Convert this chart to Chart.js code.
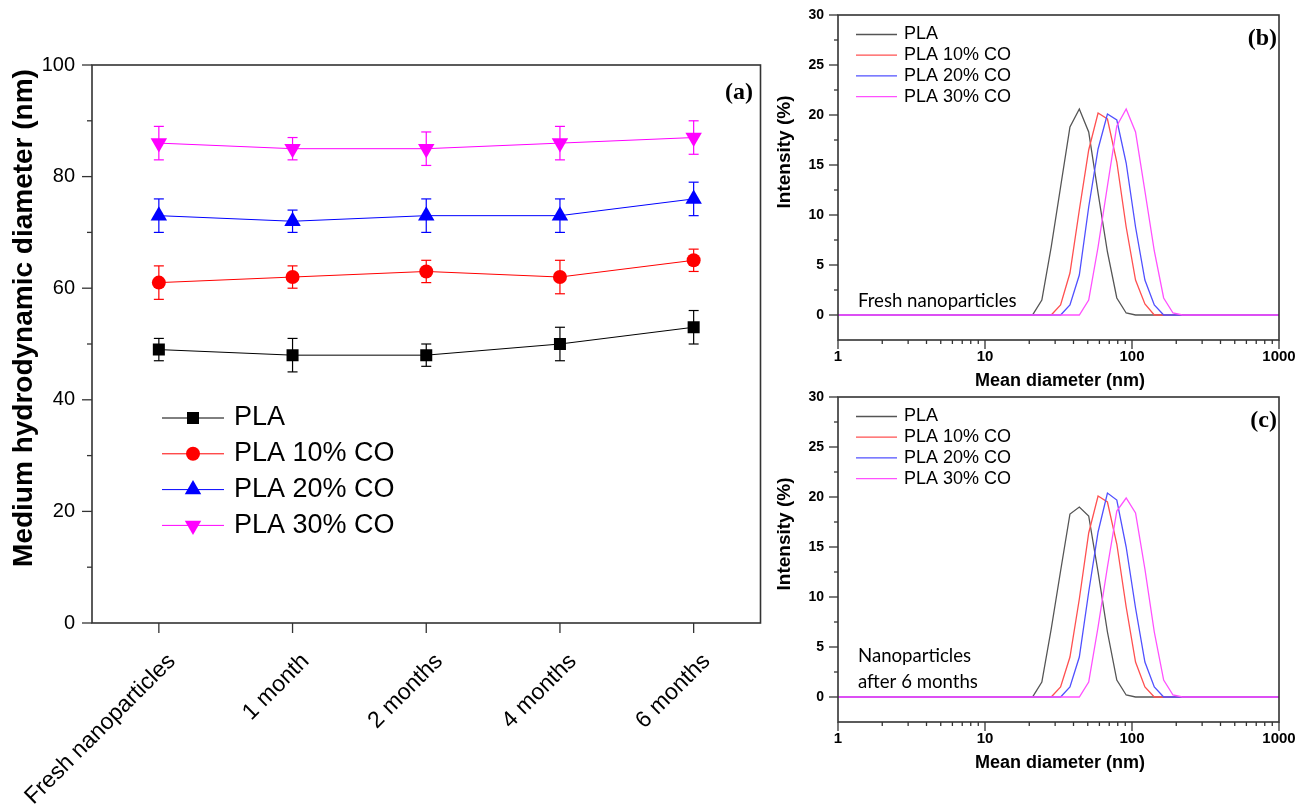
<!DOCTYPE html>
<html>
<head>
<meta charset="utf-8">
<script src="https://cdn.jsdelivr.net/npm/chart.js@4.4.1/dist/chart.umd.min.js"></script>
<style>
  html, body { margin: 0; padding: 0; background: #fff; }
  #wrap { position: relative; width: 1310px; height: 809px; overflow: hidden; }
  canvas { position: absolute; }
  #chartA { left: 0; top: 0; }
  #chartB { left: 770px; top: 0; }
  #chartC { left: 770px; top: 382px; }
</style>
</head>
<body>
<div id="wrap">
  <canvas id="chartA" width="770" height="809"></canvas>
  <canvas id="chartB" width="540" height="400"></canvas>
  <canvas id="chartC" width="540" height="400"></canvas>
</div>
<script>
// ── Datos ────────────────────────────────────────────────────────────────
const periods = ["Fresh nanoparticles", "1 month", "2 months", "4 months", "6 months"]
const seriesNames = ["PLA", "PLA 10% CO", "PLA 20% CO", "PLA 30% CO"]

// (a) diámetro hidrodinámico medio (nm) y barras de error
const diamPLA  = [49, 48, 48, 50, 53]
const errPLA   = [2, 3, 2, 3, 3]
const diamCO10 = [61, 62, 63, 62, 65]
const errCO10  = [3, 2, 2, 3, 2]
const diamCO20 = [73, 72, 73, 73, 76]
const errCO20  = [3, 2, 3, 3, 3]
const diamCO30 = [86, 85, 85, 86, 87]
const errCO30  = [3, 2, 3, 3, 3]
const diamTicks = [0, 20, 40, 60, 80, 100]

// (b, c) distribución de tamaños (intensidad %) por bin de diámetro (nm)
const binsNm = [1, 18.17, 21.04, 24.36, 28.21, 32.67, 37.84, 43.82, 50.75, 58.77, 68.06,
                78.82, 91.28, 105.7, 122.4, 141.8, 164.2, 190.1, 220.2, 255.0, 1000]
const freshPLA  = [0, 0, 0, 1.5, 6.8, 12.8, 18.8, 20.6, 18.3, 12.2, 6.3, 1.7, 0.2, 0, 0, 0, 0, 0, 0, 0, 0]
const freshCO10 = [0, 0, 0, 0, 0, 1.0, 4.2, 10.5, 16.5, 20.2, 19.6, 15.3, 8.8, 3.5, 1.1, 0, 0, 0, 0, 0, 0]
const freshCO20 = [0, 0, 0, 0, 0, 0, 1.0, 4.0, 10.8, 16.6, 20.1, 19.5, 15.2, 8.8, 3.5, 1.0, 0, 0, 0, 0, 0]
const freshCO30 = [0, 0, 0, 0, 0, 0, 0, 0, 1.5, 6.8, 12.9, 18.9, 20.6, 18.3, 12.4, 6.4, 1.7, 0.2, 0, 0, 0]
const sixPLA    = [0, 0, 0, 1.5, 6.8, 12.6, 18.3, 19.0, 18.1, 12.5, 6.5, 1.7, 0.2, 0, 0, 0, 0, 0, 0, 0, 0]
const sixCO10   = [0, 0, 0, 0, 0, 1.0, 4.0, 9.8, 16.4, 20.1, 19.5, 15.3, 9.0, 3.5, 1.0, 0, 0, 0, 0, 0, 0]
const sixCO20   = [0, 0, 0, 0, 0, 0, 1.0, 4.0, 10.5, 16.5, 20.4, 19.7, 15.0, 8.9, 3.5, 1.0, 0, 0, 0, 0, 0]
const sixCO30   = [0, 0, 0, 0, 0, 0, 0, 0, 1.5, 7.0, 13.0, 18.6, 19.9, 18.4, 12.8, 6.5, 1.7, 0.2, 0, 0, 0]
const intensityTicks = [0, 5, 10, 15, 20, 25, 30]
const sizeTicks = [1, 10, 100, 1000]

// ── Estilos ──────────────────────────────────────────────────────────────
const SANS  = "'Liberation Sans', Arial, sans-serif"
const SERIF = "'Liberation Serif', 'Times New Roman', serif"
const axisColor = "#333"

const markColors = ["#000000", "#ff0000", "#0000ff", "#ff00ff"]
const markStyles = ["rect", "circle", "triangle", "triangle"]
const markRot    = [0, 0, 0, 180]
const markRadius = [8.5, 7, 9.5, 9.5]
const distColors = ["#555555", "#ff5050", "#5050ff", "#ff50ff"]

function line(ctx, x1, y1, x2, y2) {
  ctx.beginPath(); ctx.moveTo(x1, y1); ctx.lineTo(x2, y2); ctx.stroke()
}

function text(ctx, str, x, y, font, align, rot) {
  ctx.save()
  ctx.translate(x, y)
  if (rot) ctx.rotate(rot)
  ctx.font = font
  ctx.fillStyle = "#000"
  ctx.textAlign = align || "left"
  ctx.textBaseline = "middle"
  ctx.fillText(str, 0, 0)
  ctx.restore()
}

// marco, marcas de eje, textos y leyenda
function framePlugin(cfg) {
  return {
    id: "frame",
    beforeDatasetsDraw(chart) {
      if (!cfg.errors) return
      const ctx = chart.ctx, ys = chart.scales.y
      ctx.save()
      ctx.lineWidth = 1.2
      chart.data.datasets.forEach((ds, i) => {
        const meta = chart.getDatasetMeta(i)
        ctx.strokeStyle = ds.borderColor
        meta.data.forEach((pt, j) => {
          const top = ys.getPixelForValue(ds.data[j] + cfg.errors[i][j])
          const bot = ys.getPixelForValue(ds.data[j] - cfg.errors[i][j])
          line(ctx, pt.x, top, pt.x, bot)
          line(ctx, pt.x - 5, top, pt.x + 5, top)
          line(ctx, pt.x - 5, bot, pt.x + 5, bot)
        })
      })
      ctx.restore()
    },
    afterDraw(chart) {
      const ctx = chart.ctx, a = chart.chartArea
      ctx.save()
      ctx.strokeStyle = axisColor
      ctx.lineWidth = 1.6
      ctx.strokeRect(a.left, a.top, a.right - a.left, a.bottom - a.top)
      ctx.lineWidth = 1.3
      cfg.yMajor.forEach(v => { const y = chart.scales.y.getPixelForValue(v); line(ctx, a.left - cfg.majorLen, y, a.left, y) })
      cfg.yMinor.forEach(v => { const y = chart.scales.y.getPixelForValue(v); line(ctx, a.left - cfg.minorLen, y, a.left, y) })
      cfg.xMajor.forEach(v => { const x = chart.scales.x.getPixelForValue(v); line(ctx, x, a.bottom, x, a.bottom + cfg.majorLen) })
      cfg.xMinor.forEach(v => { const x = chart.scales.x.getPixelForValue(v); line(ctx, x, a.bottom, x, a.bottom + cfg.minorLen) })
      ctx.restore()

      cfg.texts.forEach(t => text(ctx, t.s, t.x, t.y, t.font, t.align, t.rot))

      // leyenda
      const lg = cfg.legend
      chart.data.datasets.forEach((ds, i) => {
        const y = lg.y + i * lg.gap
        ctx.save()
        ctx.strokeStyle = ds.borderColor
        ctx.lineWidth = lg.lineWidth
        line(ctx, lg.x1, y, lg.x2, y)
        if (lg.marker) {
          ctx.fillStyle = ds.pointBackgroundColor
          Chart.helpers.drawPoint(ctx, { pointStyle: ds.pointStyle, rotation: ds.pointRotation || 0, radius: ds.pointRadius, borderWidth: 0 }, (lg.x1 + lg.x2) / 2, y)
        }
        ctx.restore()
        text(ctx, ds.label, lg.tx, y, lg.font, "left")
      })
    }
  }
}

// ── (a) Diámetro vs tiempo ─────────────────────────────────────────────
function buildDiameterChart() {
  const values = [diamPLA, diamCO10, diamCO20, diamCO30]
  const errors = [errPLA, errCO10, errCO20, errCO30]

  new Chart(document.getElementById("chartA"), {
    type: "line",
    data: {
      labels: periods,
      datasets: seriesNames.map((name, i) => ({
        label: name,
        data: values[i],
        borderColor: markColors[i],
        borderWidth: 1,
        pointStyle: markStyles[i],
        pointRotation: markRot[i],
        pointRadius: markRadius[i],
        pointBackgroundColor: markColors[i],
        pointBorderWidth: 0,
        tension: 0
      }))
    },
    options: {
      responsive: false,
      animation: false,
      layout: { padding: { top: 65, right: 9, left: 0, bottom: 0 } },
      plugins: { legend: { display: false }, tooltip: { enabled: false } },
      scales: {
        x: {
          type: "category",
          offset: true,
          grid: { display: false, drawTicks: false },
          border: { display: false },
          ticks: {
            color: "#000",
            font: { family: SANS, size: 23 },
            minRotation: 45,
            maxRotation: 45,
            autoSkip: false,
            padding: 25,
            labelOffset: 13
          },
          afterFit(s) { s.height = 186; s.paddingLeft = 0; s.paddingRight = 0 }
        },
        y: {
          min: 0,
          max: 100,
          grid: { display: false, drawTicks: false },
          border: { display: false },
          afterBuildTicks(s) { s.ticks = diamTicks.map(v => ({ value: v })) },
          ticks: { color: "#000", font: { family: SANS, size: 20 }, padding: 17 },
          afterFit(s) { s.width = 92; s.paddingTop = 0; s.paddingBottom = 0 }
        }
      }
    },
    plugins: [framePlugin({
      errors,
      majorLen: 10,
      minorLen: 5,
      yMajor: diamTicks,
      yMinor: [10, 30, 50, 70, 90],
      xMajor: periods.map((p, i) => i),
      xMinor: [],
      texts: [
        { s: "Medium hydrodynamic diameter (nm)", x: 24, y: 318, font: `bold 28px ${SANS}`, align: "center", rot: -Math.PI / 2 },
        { s: "(a)", x: 753, y: 93, font: `bold 24px ${SERIF}`, align: "right" }
      ],
      legend: { x1: 162, x2: 224, tx: 234, y: 418, gap: 35.8, lineWidth: 1, marker: true, font: `27px ${SANS}` }
    })]
  })
}

// ── (b, c) Distribución de tamaños ─────────────────────────────────────
function buildDistChart(id, series, tag, notes) {
  const minor = []
  ;[1, 10, 100].forEach(d => { for (let m = 2; m <= 9; m++) minor.push(d * m) })

  new Chart(document.getElementById(id), {
    type: "line",
    data: {
      datasets: seriesNames.map((name, i) => ({
        label: name,
        data: binsNm.map((x, k) => ({ x, y: series[i][k] })),
        borderColor: distColors[i],
        borderWidth: 1.3,
        pointRadius: 0,
        tension: 0,
        order: 3 - i
      }))
    },
    options: {
      responsive: false,
      animation: false,
      layout: { padding: { top: 15, right: 31, left: 0, bottom: 0 } },
      plugins: { legend: { display: false }, tooltip: { enabled: false } },
      scales: {
        x: {
          type: "logarithmic",
          min: 1,
          max: 1000,
          grid: { display: false, drawTicks: false },
          border: { display: false },
          afterBuildTicks(s) { s.ticks = sizeTicks.map(v => ({ value: v })) },
          ticks: {
            color: "#000",
            font: { family: SANS, size: 15, weight: "bold" },
            maxRotation: 0,
            autoSkip: false,
            padding: 8,
            callback: v => String(v)
          },
          afterFit(s) { s.height = 60; s.paddingLeft = 0; s.paddingRight = 0 }
        },
        y: {
          min: -2.5,
          max: 30,
          grid: { display: false, drawTicks: false },
          border: { display: false },
          afterBuildTicks(s) { s.ticks = intensityTicks.map(v => ({ value: v })) },
          ticks: { color: "#000", font: { family: SANS, size: 14, weight: "bold" }, padding: 14 },
          afterFit(s) { s.width = 68; s.paddingTop = 0; s.paddingBottom = 0 }
        }
      }
    },
    plugins: [framePlugin({
      majorLen: 9,
      minorLen: 4,
      yMajor: intensityTicks,
      yMinor: [2.5, 7.5, 12.5, 17.5, 22.5, 27.5],
      xMajor: sizeTicks,
      xMinor: minor,
      texts: [
        { s: "Intensity (%)", x: 15, y: 152, font: `bold 19px ${SANS}`, align: "center", rot: -Math.PI / 2 },
        { s: "Mean diameter (nm)", x: 290, y: 381, font: `bold 18px ${SANS}`, align: "center" },
        { s: tag, x: 507, y: 39, font: `bold 24px ${SERIF}`, align: "right" }
      ].concat(notes.map(n => ({ s: n.s, x: 88, y: n.y, font: `18.6px Lato, 'Open Sans', sans-serif`, align: "left" }))),
      legend: { x1: 86, x2: 127, tx: 134, y: 34.5, gap: 20.7, lineWidth: 1.3, marker: false, font: `18px ${SANS}` }
    })]
  })
}

buildDiameterChart()
buildDistChart("chartB", [freshPLA, freshCO10, freshCO20, freshCO30], "(b)",
  [{ s: "Fresh nanoparticles", y: 301 }])
buildDistChart("chartC", [sixPLA, sixCO10, sixCO20, sixCO30], "(c)",
  [{ s: "Nanoparticles", y: 274 }, { s: "after 6 months", y: 300 }])
</script>
</body>
</html>
